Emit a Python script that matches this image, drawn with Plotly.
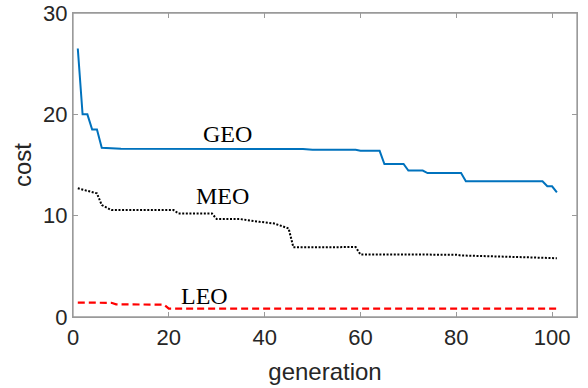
import plotly.graph_objects as go

# GEO series (generation, cost) breakpoints
geo_gen = [1, 2, 3, 4, 5, 6, 10, 48, 50, 59, 60, 64, 65, 69, 70, 73, 74, 81, 82, 98, 99, 100, 101]
geo_cost = [26.5, 20.0, 20.0, 18.5, 18.5, 16.7, 16.6, 16.58, 16.5, 16.5, 16.4, 16.4, 15.1, 15.1,
            14.45, 14.45, 14.2, 14.2, 13.4, 13.4, 12.9, 12.9, 12.3]

# MEO series
meo_gen = [1, 5, 6, 8, 21, 22, 29, 30, 35, 37, 39, 42, 44, 45, 46, 59, 60, 80, 81, 91, 92, 101]
meo_cost = [12.7, 12.2, 11.05, 10.55, 10.55, 10.22, 10.22, 9.66, 9.66, 9.5, 9.39, 9.23, 8.9, 8.74,
            6.88, 6.9, 6.17, 6.15, 6.07, 6.0, 5.93, 5.8]

# LEO series
leo_gen = [1, 8, 9, 19, 20, 101]
leo_cost = [1.42, 1.40, 1.25, 1.22, 0.83, 0.83]

# Labels
labels = ["GEO", "MEO", "LEO"]
label_x = [32.3, 31.1, 27.5]
label_y = [18.1, 11.9, 2.05]

x_ticks = [0, 20, 40, 60, 80, 100]
y_ticks = [0, 10, 20, 30]

fig = go.Figure()
fig.add_trace(go.Scatter(x=geo_gen, y=geo_cost, mode="lines",
                         line=dict(color="#0072BD", width=2), showlegend=False))
fig.add_trace(go.Scatter(x=meo_gen, y=meo_cost, mode="lines",
                         line=dict(color="#000000", width=2, dash="2px,1.6px"), showlegend=False))
fig.add_trace(go.Scatter(x=leo_gen, y=leo_cost, mode="lines",
                         line=dict(color="#FF0000", width=2.2, dash="7px,4px"), showlegend=False))

for t, x, y in zip(labels, label_x, label_y):
    fig.add_annotation(x=x, y=y, text=t, showarrow=False,
                       font=dict(family="Liberation Serif", size=24, color="#000000"))

axis_common = dict(showline=True, linecolor="#9a9a9a", linewidth=1.3, mirror="ticks",
                   ticks="inside", ticklen=5, tickcolor="#9a9a9a", tickwidth=1, showgrid=False,
                   zeroline=False, automargin=False,
                   tickfont=dict(family="Liberation Sans", size=22, color="#262626"))

fig.update_xaxes(range=[0, 105.2], tickvals=x_ticks, ticktext=[str(v) for v in x_ticks],
                 title=dict(text="generation", font=dict(family="Liberation Sans", size=24, color="#262626"),
                            standoff=14),
                 **axis_common)
fig.update_yaxes(range=[0, 30], tickvals=y_ticks, ticktext=[str(v) for v in y_ticks],
                 title=dict(text="cost", font=dict(family="Liberation Sans", size=24, color="#262626"),
                            standoff=4),
                 **axis_common)

# plot-area frame
fig.add_shape(type="rect", xref="paper", yref="paper", x0=0, y0=0, x1=1, y1=1,
              line=dict(color="#9a9a9a", width=1.3), layer="above")

fig.update_layout(width=588, height=388, margin=dict(l=73, r=11, t=13, b=71),
                  paper_bgcolor="white", plot_bgcolor="white")

fig.write_html("out.html", config={"displayModeBar": False},
               post_script="document.body.style.margin='0';document.body.style.overflow='hidden';")
